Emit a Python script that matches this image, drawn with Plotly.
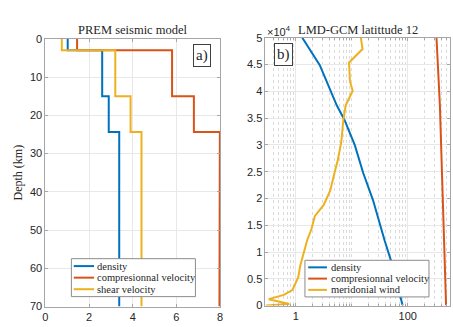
import numpy as np
import plotly.graph_objects as go

W, H = 453, 327

# ---- PREM crust/upper mantle (layer tops/bottoms in km) ----
prem_depth = [0, 3, 3, 15, 15, 24.4, 24.4, 70]
prem_density = [1.02, 1.02, 2.6, 2.6, 2.9, 2.9, 3.38, 3.38]
prem_vp = [1.45, 1.45, 5.8, 5.8, 6.8, 6.8, 7.99, 7.97]
prem_vs = [0.75, 0.75, 3.2, 3.2, 3.9, 3.9, 4.4, 4.4]
prem_names = ["density", "compresionnal velocity", "shear velocity"]

# ---- LMD-GCM profile, latitude 12 (altitude in m) ----
gcm_alt_rho = [0, 8300, 12200, 19700, 24800, 29900, 34700, 37400, 44900, 50000]
gcm_density = [81.3, 50.6, 38.6, 24.0, 16.0, 11.4, 7.4, 5.4, 2.69, 1.31]
gcm_alt_vp = [0, 12200, 24800, 37400, 50000]
gcm_vp = [485, 443, 413, 376, 327]
gcm_alt_wind = [0, 300, 1200, 2000, 2900, 4100, 5300, 7400, 8900, 12200, 14300,
                16700, 18800, 21500, 24800, 27200, 30500, 34700, 37400, 40100,
                41900, 45400, 47900, 50000]
gcm_wind = [0.29, 0.77, 0.33, 0.61, 0.87, 1.0, 1.11, 1.2, 1.31, 1.6, 1.91,
            2.19, 3.16, 4.14, 4.93, 5.65, 6.5, 7.1, 7.8, 10.4,
            9.3, 8.96, 15.6, 14.6]
gcm_names = ["density", "compresionnal velocity", "meridonial wind"]

colors = ["#0072BD", "#D95319", "#EDB120"]

SERIF = "Liberation Serif"
SANS = "Liberation Sans"
TXT = "#262626"


def px(x):
    return x / W


def py(y):
    return 1 - y / H


fig = go.Figure()

for vals, c, n in zip([prem_density, prem_vp, prem_vs], colors, prem_names):
    fig.add_trace(go.Scatter(x=vals, y=prem_depth, mode="lines", name=n,
                             line=dict(color=c, width=2), xaxis="x", yaxis="y",
                             showlegend=False))

for xs, ys, c, n in zip([gcm_density, gcm_vp, gcm_wind],
                        [gcm_alt_rho, gcm_alt_vp, gcm_alt_wind], colors, gcm_names):
    fig.add_trace(go.Scatter(x=xs, y=ys, mode="lines", name=n,
                             line=dict(color=c, width=2), xaxis="x2", yaxis="y2",
                             showlegend=False))

axis_common = dict(showline=True, linecolor="#a6a6a6", linewidth=1, mirror="ticks",
                   ticks="inside", ticklen=3, tickcolor="#a6a6a6",
                   showgrid=True, gridcolor="#e8e8e8", gridwidth=1, zeroline=False,
                   tickfont=dict(family=SANS, size=11, color=TXT))

minor_vals = ([0.3, 0.4, 0.5, 0.6, 0.7, 0.8, 0.9]
              + [2, 3, 4, 5, 6, 7, 8, 9, 10]
              + [20, 30, 40, 50, 60, 70, 80, 90]
              + [200, 300, 400, 500])

fig.update_layout(
    width=W, height=H, autosize=False,
    margin=dict(l=0, r=0, t=0, b=0),
    paper_bgcolor="white", plot_bgcolor="white",
    xaxis=dict(domain=[px(43), px(220)], range=[0, 8], tickvals=[0, 2, 4, 6, 8],
               anchor="y", **axis_common),
    yaxis=dict(domain=[py(312), py(34)], range=[70, 0],
               tickvals=list(range(0, 71, 10)), anchor="x", **axis_common),
    xaxis2=dict(domain=[px(266), px(452.7)], type="log",
                range=[np.log10(0.288), np.log10(563)],
                tickvals=[1, 100], ticktext=["1", "100"], anchor="y2",
                minor=dict(tickmode="array", tickvals=minor_vals, showgrid=True,
                           gridcolor="#dadada", griddash="dot", gridwidth=1,
                           ticks="inside", ticklen=2, tickcolor="#a6a6a6"),
                **axis_common),
    yaxis2=dict(domain=[py(311), py(33)], range=[0, 50000],
                tickvals=[i * 5000 for i in range(11)],
                ticktext=["0", "0.5", "1", "1.5", "2", "2.5", "3", "3.5", "4", "4.5", "5"],
                anchor="x2", **axis_common),
)

ann = []
ann.append(dict(text="PREM seismic model", x=px(131.5), y=py(25), xref="paper", yref="paper",
                showarrow=False, xanchor="center", yanchor="middle",
                font=dict(family=SERIF, size=12.5, color=TXT)))
ann.append(dict(text="LMD-GCM latittude 12", x=px(360), y=py(25), xref="paper", yref="paper",
                showarrow=False, xanchor="center", yanchor="middle",
                font=dict(family=SERIF, size=12.5, color=TXT)))
ann.append(dict(text="Depth (km)", x=px(15), y=py(173), xref="paper", yref="paper",
                showarrow=False, xanchor="center", yanchor="middle", textangle=-90,
                font=dict(family=SERIF, size=12, color=TXT)))
ann.append(dict(text="×10<sup>4</sup>", x=px(266), y=py(26), xref="paper", yref="paper",
                showarrow=False, xanchor="left", yanchor="middle",
                font=dict(family=SANS, size=11, color=TXT)))
ann.append(dict(text="a)", x=px(202), y=py(51.5), xref="paper", yref="paper",
                showarrow=False, xanchor="center", yanchor="middle",
                bordercolor="#404040", borderwidth=1, borderpad=2, bgcolor="white",
                font=dict(family=SERIF, size=15, color=TXT)))
ann.append(dict(text="b)", x=px(284), y=py(50.5), xref="paper", yref="paper",
                showarrow=False, xanchor="center", yanchor="middle",
                bordercolor="#404040", borderwidth=1, borderpad=2, bgcolor="white",
                font=dict(family=SERIF, size=15, color=TXT)))

shapes = []


def legend_box(x0, y0, x1, y1, lx0, lx1, tx, rows, names):
    shapes.append(dict(type="rect", xref="paper", yref="paper",
                       x0=px(x0), x1=px(x1), y0=py(y1), y1=py(y0),
                       line=dict(color="#8c8c8c", width=1), fillcolor="white",
                       layer="above"))
    for r, c, n in zip(rows, colors, names):
        shapes.append(dict(type="line", xref="paper", yref="paper",
                           x0=px(lx0), x1=px(lx1), y0=py(r), y1=py(r),
                           line=dict(color=c, width=2), layer="above"))
        ann.append(dict(text=n, x=px(tx), y=py(r), xref="paper", yref="paper",
                        showarrow=False, xanchor="left", yanchor="middle",
                        font=dict(family=SERIF, size=10.5, color=TXT)))


legend_box(69.3, 262.3, 195, 301.7, 71.7, 92.3, 93.5, [270, 282, 294], prem_names)
legend_box(306, 264, 431.7, 302, 309.3, 328.3, 330.5, [271.3, 283, 294.7], gcm_names)

fig.update_layout(annotations=ann, shapes=shapes)

fig.write_html("out.html")
